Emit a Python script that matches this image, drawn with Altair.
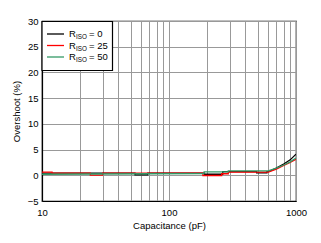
import altair as alt
import pandas as pd

# ---- data ----
cap_r0 = [10, 54, 54, 68, 68, 190, 190, 265, 265, 490, 490, 590, 590, 610, 700, 800, 900, 1000]
ovs_r0 = [0.43, 0.43, 0.08, 0.08, 0.43, 0.43, 0.2, 0.2, 0.72, 0.72, 0.45, 0.45, 0.72, 0.72, 1.4, 2.2, 3.0, 4.1]

cap_r25 = [10, 12, 12, 24, 24, 30, 30, 185, 185, 260, 260, 293, 293, 605, 700, 800, 900, 1000]
ovs_r25 = [0.63, 0.63, 0.43, 0.43, 0.05, 0.05, 0.43, 0.43, -0.04, -0.04, 0.3, 0.3, 0.62, 0.62, 1.2, 1.9, 2.5, 3.1]

cap_r50 = [10, 189, 189, 293, 293, 605, 700, 800, 900, 1000]
ovs_r50 = [0.2, 0.35, 0.68, 0.68, 0.87, 0.87, 1.4, 2.0, 2.6, 3.35]

series_names = ["0", "25", "50"]
series_colors = ["#000000", "#ff0000", "#339966"]

y_ticks = [-5, 0, 5, 10, 15, 20, 25, 30]
x_grid = [10, 20, 30, 40, 50, 60, 70, 80, 90,
          100, 200, 300, 400, 500, 600, 700, 800, 900, 1000]

rows = []
for name, caps, vals in zip(series_names, [cap_r0, cap_r25, cap_r50],
                            [ovs_r0, ovs_r25, ovs_r50]):
    for i, (c, v) in enumerate(zip(caps, vals)):
        rows.append({"series": name, "cap": c, "ovs": v, "ord": i})
df = pd.DataFrame(rows)

FONT = "Liberation Sans"

lines = alt.Chart(df).mark_line(strokeWidth=1.3, clip=True).encode(
    x=alt.X("cap:Q",
            scale=alt.Scale(type="log", domain=[10, 1000], nice=False),
            axis=alt.Axis(values=x_grid, title="Capacitance (pF)",
                          labelExpr="(datum.value==10||datum.value==100||datum.value==1000) ? datum.label : ''",
                          ticks=False, labelPadding=6, titlePadding=4,
                          labelFlush=False, format="d")),
    y=alt.Y("ovs:Q",
            scale=alt.Scale(domain=[-5, 30], nice=False),
            axis=alt.Axis(values=y_ticks, title="Overshoot (%)", ticks=False,
                          labelPadding=4, titlePadding=6)),
    color=alt.Color("series:N", scale=alt.Scale(domain=series_names, range=series_colors),
                    legend=None),
    order="ord:Q",
    detail="series:N",
)

layers = [lines]

# ---- custom legend (subscripted R_ISO) ----
box = alt.Chart(pd.DataFrame({"k": [0]})).mark_rect(
    fill="white", stroke="black", strokeWidth=1.2).encode(
    x=alt.value(0), x2=alt.value(70.5), y=alt.value(0.5), y2=alt.value(49.5))
layers.append(box)

for i, (name, col) in enumerate(zip(series_names, series_colors)):
    yy = 13 + i * 11.5
    layers.append(alt.Chart(pd.DataFrame({"k": [0]})).mark_rule(
        color=col, strokeWidth=1.3).encode(
        x=alt.value(5), x2=alt.value(22), y=alt.value(yy)))
    layers.append(alt.Chart(pd.DataFrame({"t": ["R"]})).mark_text(
        align="left", baseline="alphabetic", fontSize=9.5, font=FONT, color="black").encode(
        text="t:N", x=alt.value(27), y=alt.value(yy + 3.4)))
    layers.append(alt.Chart(pd.DataFrame({"t": ["ISO"]})).mark_text(
        align="left", baseline="alphabetic", fontSize=6.3, font=FONT, color="black").encode(
        text="t:N", x=alt.value(34), y=alt.value(yy + 5.4)))
    layers.append(alt.Chart(pd.DataFrame({"t": ["= " + name]})).mark_text(
        align="left", baseline="alphabetic", fontSize=9.5, font=FONT, color="black").encode(
        text="t:N", x=alt.value(47), y=alt.value(yy + 3.4)))

chart = alt.layer(*layers).properties(
    width=254, height=180,
    autosize=alt.AutoSizeParams(type="none"),
    padding={"left": 42, "top": 21, "right": 25, "bottom": 42},
    background="white",
).configure_view(
    stroke="black", strokeWidth=1.2
).configure_axis(
    labelFont=FONT, titleFont=FONT, labelFontSize=9.5, titleFontSize=9.5,
    labelColor="black", titleColor="black", titleFontWeight="normal",
    gridColor="#999999", gridWidth=1, gridOpacity=1,
    domainColor="black", domainWidth=1.2,
)

chart.save("out.html", embed_options={"renderer": "svg", "actions": False})
